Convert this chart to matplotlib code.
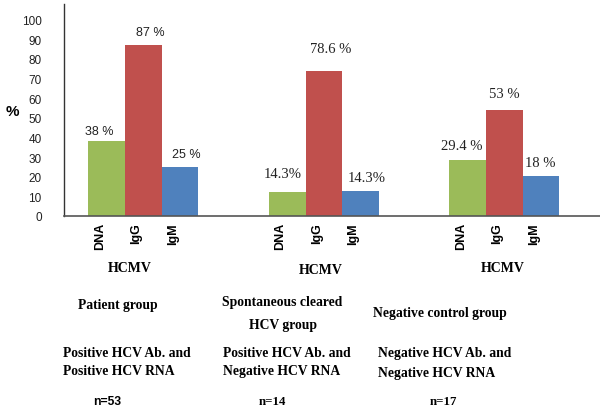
import matplotlib
matplotlib.use("Agg")
import matplotlib.pyplot as plt
import matplotlib.transforms as mtransforms
import numpy as np

# ---- data ----
groups = ["Patient group", "Spontaneous cleared HCV group", "Negative control group"]
markers = ["DNA", "IgG", "IgM"]
# bar heights as drawn
dna = [38.4, 12.4, 28.4]
igg = [86.9, 74.1, 53.9]
igm = [25.2, 12.9, 20.3]
# value labels as printed
dna_labels = ["38 %", "14.3%", "29.4 %"]
igg_labels = ["87 %", "78.6 %", "53 %"]
igm_labels = ["25 %", "14.3%", "18 %"]
yticks = [0, 10, 20, 30, 40, 50, 60, 70, 80, 90, 100]

colors = ["#9BBB59", "#C0504D", "#4F81BD"]
W, H = 600, 414

fig = plt.figure(figsize=(6, 4.14), dpi=100)
ax = fig.add_axes([64 / W, 1 - 217 / H, 1 - 64 / W, (217 - 5) / H])

x = np.arange(len(groups))
bw = 0.203
series = [dna, igg, igm]
labels = [dna_labels, igg_labels, igm_labels]
label_font = ["Liberation Sans", "Liberation Serif", "Liberation Serif"]
label_size = [9, 10.5, 10.5]
# label placement offsets in pixels: [series][group] -> (dx, dy)
label_dx = [[-8, -5, -6], [7, 7, 0], [6, 6, -1]]
label_dy = [[10, 18, 15], [13, 22, 17], [13, 13, 14]]
for i, (vals, labs) in enumerate(zip(series, labels)):
    pos = x + (i - 1) * bw
    ax.bar(pos, vals, width=bw, color=colors[i], edgecolor="none")
    for g, (p, v, t) in enumerate(zip(pos, vals, labs)):
        ax.annotate(t, (p, v), xytext=(label_dx[i][g] * 0.72, label_dy[i][g] * 0.72),
                    textcoords="offset points",
                    ha="center", va="center", fontsize=label_size[g],
                    family=label_font[g], color="#222222")

ax.set_ylim(0, 108)
ax.set_xlim(-0.44, 2.53)
ax.set_yticks(yticks)
ax.set_yticklabels([str(t) for t in yticks], family="Liberation Sans", fontsize=8.5,
                   color="#222222")
ax.tick_params(axis="y", length=0, pad=16)
ax.tick_params(axis="x", length=0)
ax.set_xticks([])
for s in ["top", "right"]:
    ax.spines[s].set_visible(False)
ax.spines["left"].set_color("#333333")
ax.spines["bottom"].set_color("#555555")
ax.spines["left"].set_linewidth(1.0)
ax.spines["bottom"].set_linewidth(1.2)

# rotated category labels
shift = mtransforms.ScaledTranslation(-7 / 100, -6 / 100, fig.dpi_scale_trans)
trans = mtransforms.blended_transform_factory(ax.transData, ax.transAxes) + shift
for g in range(len(groups)):
    for i, m in enumerate(markers):
        ax.text(x[g] + (i - 1) * bw, 0, m, transform=trans, rotation=90,
                ha="center", va="top", fontsize=9, fontweight="bold",
                family="Liberation Sans")


def ft(px, py, s, ha="center", family="Liberation Serif", size=10):
    fig.text(px / W, 1 - py / H, s, ha=ha, va="center", fontsize=size,
             fontweight="bold", family=family)


ft(12, 112, "%", family="Liberation Sans", size=11)

# HCMV labels
for cx, cy in [(130, 268), (320.7, 270), (502.7, 268)]:
    ft(cx, cy, "HCMV")

ft(118, 306, "Patient group", size=9.8)
ft(282, 302.7, "Spontaneous cleared", size=9.8)
ft(283, 325.7, "HCV group", size=9.8)
ft(440, 313.3, "Negative control group", size=9.8)

ft(62.7, 353.3, "Positive HCV Ab. and", ha="left", size=9.8)
ft(62.7, 371.7, "Positive HCV RNA", ha="left", size=9.8)
ft(223.3, 353.3, "Positive HCV Ab. and", ha="left", size=9.8)
ft(223.3, 371.7, "Negative HCV RNA", ha="left", size=9.8)
ft(377.7, 354, "Negative HCV Ab. and", ha="left", size=9.8)
ft(377.7, 374, "Negative HCV RNA", ha="left", size=9.8)

ft(107, 401.7, "n=53", family="Liberation Sans", size=8.7)
ft(272.7, 401.7, "n=14", size=9.3)
ft(443, 401.7, "n=17", size=9.3)

fig.savefig("out.png", dpi=100)
